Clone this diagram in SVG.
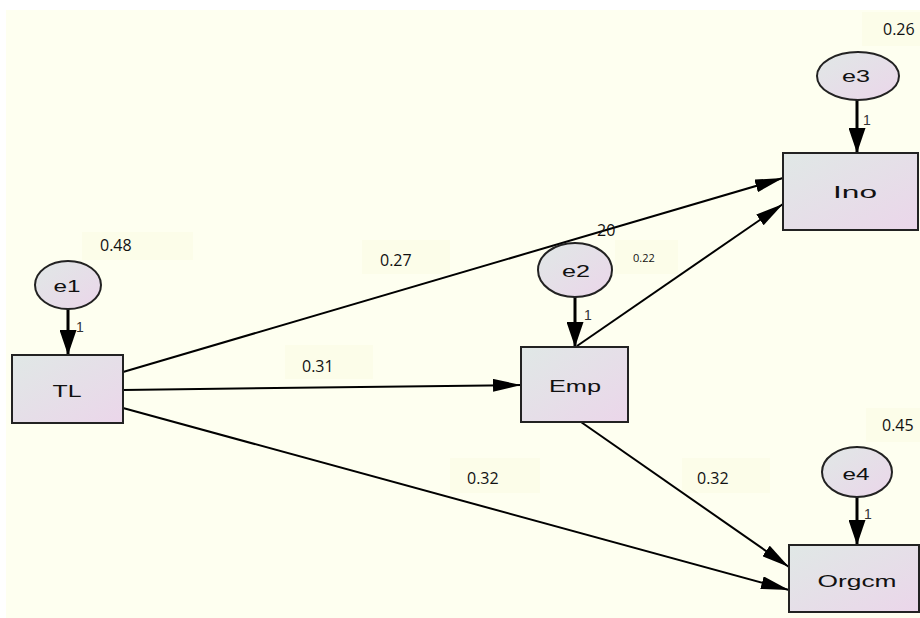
<svg xmlns="http://www.w3.org/2000/svg" width="920" height="618" viewBox="0 0 920 618">
<defs>
<linearGradient id="gfill" x1="0" y1="0" x2="1" y2="1">
<stop offset="0" stop-color="#e0e8e6"/>
<stop offset="1" stop-color="#ebd6ea"/>
</linearGradient>
<marker id="ah" viewBox="0 0 28 13" refX="28" refY="6.5" markerWidth="28" markerHeight="13" markerUnits="userSpaceOnUse" orient="auto">
<path d="M0,0 L28,6.5 L0,13 Z" fill="#000"/>
</marker>
<marker id="ahb" viewBox="0 0 25 17" refX="25" refY="8.5" markerWidth="25" markerHeight="17" markerUnits="userSpaceOnUse" orient="auto">
<path d="M0,0 L25,8.5 L0,17 Z" fill="#000"/>
</marker>
</defs>
<style>
.node rect, .node ellipse { fill: url(#gfill); stroke: #222; stroke-width: 2; }
.nt { font-family: "Liberation Sans", Arial, sans-serif; font-size: 17px; fill: #111; text-anchor: middle; }
.num { font-family: "Open Sans", "Liberation Sans", sans-serif; font-size: 16px; fill: #111; }
.one { font-family: "Liberation Sans", Arial, sans-serif; font-size: 14px; fill: #333; }
.lb { fill: #fcfde9; }
.c { stroke: #000; stroke-width: 2; fill: none; marker-end: url(#ah); }
.e { stroke: #000; stroke-width: 3; fill: none; marker-end: url(#ahb); }
</style>
<rect x="0" y="0" width="920" height="618" fill="#ffffff"/>
<rect x="6" y="10" width="914" height="608" fill="#fefff0"/>

<g id="labels-bg">
<rect class="lb" x="82" y="232" width="111" height="28"/>
<rect class="lb" x="362" y="240" width="88" height="34"/>
<rect class="lb" x="285" y="345" width="88" height="34"/>
<rect class="lb" x="615" y="240" width="63" height="34"/>
<rect class="lb" x="450" y="458" width="90" height="35"/>
<rect class="lb" x="682" y="458" width="88" height="35"/>
<rect class="lb" x="862" y="12" width="58" height="34"/>
<rect class="lb" x="866" y="408" width="54" height="34"/>
</g>

<g id="connectors">
<line class="c" x1="123" y1="372" x2="783" y2="178"/>
<line class="c" x1="577" y1="346" x2="783" y2="204"/>
<line class="c" x1="123" y1="390" x2="521" y2="385"/>
<line class="c" x1="123" y1="408" x2="789" y2="590"/>
<line class="c" x1="581" y1="422" x2="789" y2="567"/>
<line class="e" x1="68" y1="309" x2="68" y2="355"/>
<line class="e" x1="575" y1="297" x2="575" y2="347"/>
<line class="e" x1="857" y1="100" x2="857" y2="153"/>
<line class="e" x1="857" y1="497" x2="857" y2="545"/>
</g>

<g id="TL" class="node"><rect x="12" y="355" width="111" height="68"/><text class="nt" x="67" y="397" textLength="29" lengthAdjust="spacingAndGlyphs">TL</text></g>
<g id="Emp" class="node"><rect x="521" y="347" width="107" height="75"/><text class="nt" x="575" y="392" textLength="52" lengthAdjust="spacingAndGlyphs">Emp</text></g>
<g id="Ino" class="node"><rect x="783" y="153" width="135" height="77"/><text class="nt" x="855" y="198" textLength="44" lengthAdjust="spacingAndGlyphs">Ino</text></g>
<g id="Orgcm" class="node"><rect x="789" y="545" width="130" height="67"/><text class="nt" x="857" y="587" textLength="79" lengthAdjust="spacingAndGlyphs">Orgcm</text></g>

<g id="e1" class="node"><ellipse cx="68" cy="285" rx="33" ry="24"/><text class="nt" x="67" y="292" textLength="27" lengthAdjust="spacingAndGlyphs">e1</text></g>
<g id="e2" class="node"><ellipse cx="575" cy="270" rx="37" ry="27"/><text class="nt" x="576" y="277" textLength="28" lengthAdjust="spacingAndGlyphs">e2</text></g>
<g id="e3" class="node"><ellipse cx="858" cy="76" rx="41" ry="24"/><text class="nt" x="856" y="82" textLength="28" lengthAdjust="spacingAndGlyphs">e3</text></g>
<g id="e4" class="node"><ellipse cx="857" cy="472" rx="35" ry="25"/><text class="nt" x="856" y="480" textLength="27" lengthAdjust="spacingAndGlyphs">e4</text></g>

<g id="texts">
<text class="one" x="76" y="332">1</text>
<text class="one" x="584" y="320">1</text>
<text class="one" x="863" y="125">1</text>
<text class="one" x="864" y="519">1</text>
<text class="num" x="100" y="251">0.48</text>
<text class="num" x="380" y="266">0.27</text>
<text class="num" x="302" y="372">0.31</text>
<text class="num" x="467" y="484">0.32</text>
<text class="num" x="697" y="484">0.32</text>
<text class="num" x="883" y="35">0.26</text>
<text class="num" x="882" y="431">0.45</text>
<text class="num" x="597" y="236">20</text>
<text class="num" x="633" y="262" style="font-size:11px">0.22</text>
</g>
</svg>
